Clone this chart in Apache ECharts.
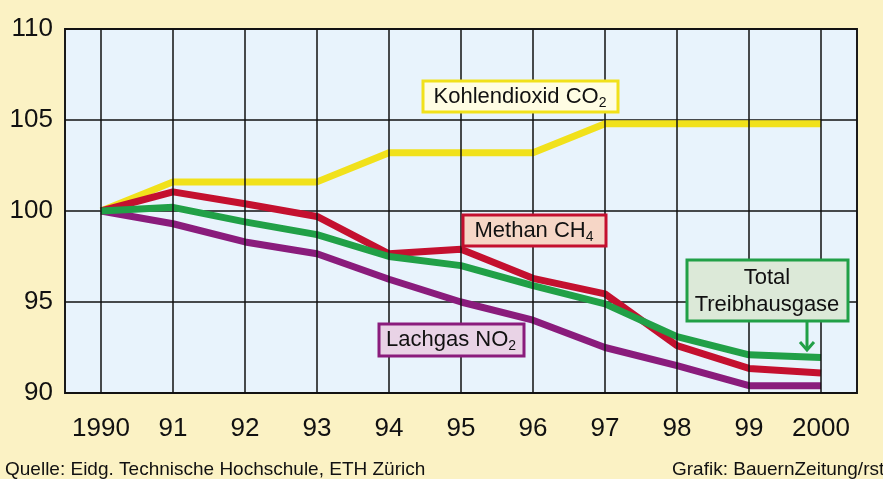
<!DOCTYPE html>
<html>
<head>
<meta charset="utf-8">
<script src="https://cdn.jsdelivr.net/npm/echarts@6/dist/echarts.min.js"></script>
<style>
html,body{margin:0;padding:0;background:#FBF2C4;}
#c{width:883px;height:479px;}
</style>
</head>
<body>
<div id="c"></div>
<script>
var years = [1990, 1991, 1992, 1993, 1994, 1995, 1996, 1997, 1998, 1999, 2000];
var yearLabels = ['1990', '91', '92', '93', '94', '95', '96', '97', '98', '99', '2000'];
var co2 = [100, 101.6, 101.6, 101.6, 103.2, 103.2, 103.2, 104.8, 104.8, 104.8, 104.8];
var ch4 = [100, 101.05, 100.4, 99.7, 97.65, 97.9, 96.3, 95.45, 92.6, 91.35, 91.1];
var no2 = [100, 99.3, 98.3, 97.65, 96.25, 95.0, 94.0, 92.5, 91.5, 90.4, 90.4];
var total = [100, 100.2, 99.4, 98.7, 97.5, 97.0, 95.9, 94.9, 93.1, 92.1, 91.95];
var yTicks = [90, 95, 100, 105, 110];

var FONT = '"Liberation Sans", Arial, sans-serif';

function pairs(vals) {
  return years.map(function (y, i) { return [y, vals[i]]; });
}
function lineSeries(name, vals, color) {
  return {
    name: name, type: 'line', data: pairs(vals), symbol: 'none', z: 3,
    lineStyle: { color: color, width: 7, cap: 'butt', join: 'round' },
    emphasis: { disabled: true }, animation: false
  };
}

var chart = echarts.init(document.getElementById('c'));
chart.setOption({
  backgroundColor: '#FBF2C4',
  animation: false,
  grid: {
    left: 65, right: 26, top: 29, bottom: 86,
    show: true, backgroundColor: '#E8F3FC', borderColor: '#1a1a1a', borderWidth: 2
  },
  xAxis: {
    type: 'value', min: 1989.5, max: 2000.5,
    axisLine: { show: false },
    axisTick: { show: false },
    splitLine: { show: false },
    axisLabel: {
      customValues: years,
      formatter: function (v) { var i = years.indexOf(v); return i >= 0 ? yearLabels[i] : ''; },
      fontFamily: FONT, fontSize: 26, color: '#111', margin: 23
    }
  },
  yAxis: {
    type: 'value', min: yTicks[0], max: yTicks[yTicks.length - 1], interval: 5,
    axisLine: { show: false },
    axisTick: { show: false },
    splitLine: { show: true, lineStyle: { color: '#111', width: 1.5 } },
    axisLabel: { fontFamily: FONT, fontSize: 26, color: '#111', margin: 12 }
  },
  series: [
    {
      type: 'line', data: [], z: 1, silent: true,
      markLine: {
        silent: true, symbol: 'none', animation: false,
        label: { show: false },
        lineStyle: { color: '#111', width: 1.5, type: 'solid' },
        data: years.map(function (y) { return { xAxis: y }; })
      }
    },
    lineSeries('Kohlendioxid CO2', co2, '#F1E11B'),
    lineSeries('Lachgas NO2', no2, '#8A1C7C'),
    lineSeries('Methan CH4', ch4, '#C4102F'),
    lineSeries('Total Treibhausgase', total, '#21A047')
  ],
  graphic: [
    { type: 'rect', shape: { x: 423, y: 81, width: 195, height: 31 }, style: { fill: '#FFFDE3', stroke: '#F1E11B', lineWidth: 3 }, z: 10 },
    { type: 'text', x: 520, y: 97, z: 11, style: {
      text: '{m|Kohlendioxid CO}{s|2}', align: 'center', verticalAlign: 'middle',
      rich: { m: { fontFamily: FONT, fontSize: 22, fill: '#111', lineHeight: 26 }, s: { fontFamily: FONT, fontSize: 14, fill: '#111', lineHeight: 16, verticalAlign: 'bottom' } } } },

    { type: 'rect', shape: { x: 463, y: 215, width: 143, height: 31 }, style: { fill: '#F6D6C6', stroke: '#C4102F', lineWidth: 3 }, z: 10 },
    { type: 'text', x: 534, y: 231, z: 11, style: {
      text: '{m|Methan CH}{s|4}', align: 'center', verticalAlign: 'middle',
      rich: { m: { fontFamily: FONT, fontSize: 22, fill: '#111', lineHeight: 26 }, s: { fontFamily: FONT, fontSize: 14, fill: '#111', lineHeight: 16, verticalAlign: 'bottom' } } } },

    { type: 'rect', shape: { x: 379, y: 324, width: 145, height: 32 }, style: { fill: '#E9D3E6', stroke: '#8A1C7C', lineWidth: 3 }, z: 10 },
    { type: 'text', x: 451, y: 340, z: 11, style: {
      text: '{m|Lachgas NO}{s|2}', align: 'center', verticalAlign: 'middle',
      rich: { m: { fontFamily: FONT, fontSize: 22, fill: '#111', lineHeight: 26 }, s: { fontFamily: FONT, fontSize: 14, fill: '#111', lineHeight: 16, verticalAlign: 'bottom' } } } },

    { type: 'rect', shape: { x: 687, y: 260, width: 161, height: 61 }, style: { fill: '#DCE9D8', stroke: '#21A047', lineWidth: 3 }, z: 10 },
    { type: 'text', x: 767, y: 291, z: 11, style: {
      text: 'Total\nTreibhausgase', align: 'center', verticalAlign: 'middle',
      fontFamily: FONT, fontSize: 22, lineHeight: 27, fill: '#111' } },
    { type: 'line', shape: { x1: 807, y1: 322, x2: 807, y2: 349 }, style: { stroke: '#21A047', lineWidth: 3 }, z: 10 },
    { type: 'polyline', shape: { points: [[800, 342], [807, 350], [814, 342]] }, style: { stroke: '#21A047', lineWidth: 3, fill: null }, z: 10 },

    { type: 'text', x: 5, y: 470, z: 11, style: { text: 'Quelle: Eidg. Technische Hochschule, ETH Zürich', fontFamily: FONT, fontSize: 19, fill: '#111', verticalAlign: 'middle' } },
    { type: 'text', x: 672, y: 470, z: 11, style: { text: 'Grafik: BauernZeitung/rst', fontFamily: FONT, fontSize: 19, fill: '#111', verticalAlign: 'middle' } }
  ]
});
</script>
</body>
</html>
